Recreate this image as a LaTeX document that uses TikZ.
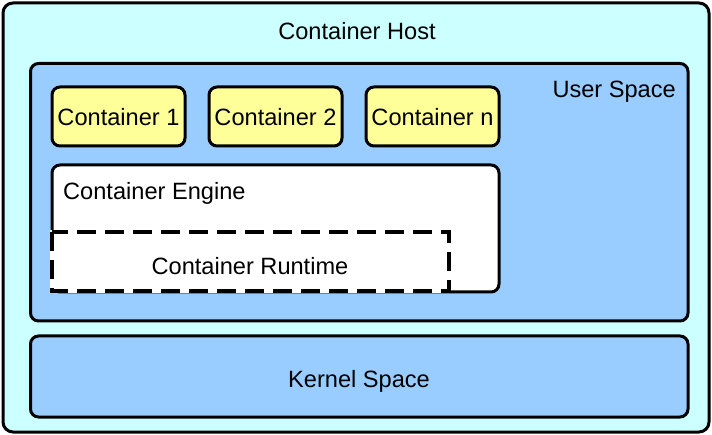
\documentclass[tikz,border=0pt]{standalone}
\usepackage{fontspec}
\setmainfont{Liberation Sans}
\definecolor{hostfill}{HTML}{CCFFFF}
\definecolor{spacefill}{HTML}{99CCFF}
\definecolor{ctrfill}{HTML}{FFFF99}
\begin{document}
\begin{tikzpicture}[x=1pt,y=-1pt,
  frame/.style={draw=black, line width=3pt, rounded corners=8pt},
  lbl/.style={font=\fontsize{23.6}{28}\selectfont, inner sep=0pt},
  boxat/.style 2 args={minimum width=#1, minimum height=#2, inner sep=0pt, outer sep=0pt}]
\useasboundingbox (0,0) rectangle (712,435);
% host and the two spaces
\node[frame, rounded corners=10pt, fill=hostfill, boxat={706pt}{429pt}] (host) at (356,217.5) {};
\node[frame, fill=spacefill, boxat={657.5pt}{257.5pt}] (user) at (359.25,192.25) {};
\node[frame, fill=spacefill, boxat={657.5pt}{81pt}] (kernel) at (359.25,376.5) {};
% containers
\node[frame, fill=ctrfill, boxat={133pt}{59pt}] (c1) at (118.5,116.5) {};
\node[frame, fill=ctrfill, boxat={133pt}{59pt}] (c2) at (275.5,116.5) {};
\node[frame, fill=ctrfill, boxat={133pt}{59pt}] (cn) at (432.5,116.5) {};
% engine and runtime
\node[frame, fill=white, boxat={447pt}{127pt}] (engine) at (275.5,228.5) {};
\node[draw=white, line width=3.5pt, fill=white, boxat={397pt}{59pt}] (runtime) at (250.5,261.5) {};
\draw[line width=3.5pt, dash pattern=on 19pt off 9pt] (runtime.north west) rectangle (runtime.south east);
% labels
\node[lbl] (thost) at (357,31.5) {Container Host};
\node[lbl, anchor=east] (tuser) at (676,91.5) {User Space};
\node[lbl] (tkernel) at (359,381) {Kernel Space};
\node[lbl] (t1) at (118.5,117) {Container 1};
\node[lbl] (t2) at (275.5,117) {Container 2};
\node[lbl] (tn) at (432.5,117) {Container n};
\node[lbl, anchor=west] (teng) at (63,193) {Container Engine};
\node[lbl] (trun) at (250,266) {Container Runtime};
\end{tikzpicture}
\end{document}
